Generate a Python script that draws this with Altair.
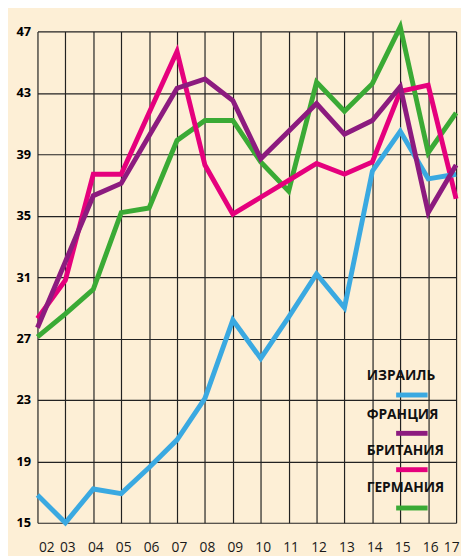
import altair as alt
import pandas as pd

years = list(range(2, 18))
y_ticks = [15, 19, 23, 27, 31, 35, 39, 43, 47]

countries = ["ИЗРАИЛЬ", "ФРАНЦИЯ", "БРИТАНИЯ", "ГЕРМАНИЯ"]
colors = ["#3aa9e1", "#8c1b7f", "#e5007d", "#3aaa35"]

israel = [16.8, 15.0, 17.2, 16.9, 18.6, 20.4, 23.1, 28.2, 25.7, 28.4, 31.2, 29.0, 37.9, 40.5, 37.4, 37.7]
france = [27.7, 32.0, 36.3, 37.1, 40.2, 43.3, 43.9, 42.5, 38.7, 40.5, 42.3, 40.3, 41.2, 43.4, 35.2, 38.3]
britain = [28.3, 30.8, 37.7, 37.7, 41.7, 45.7, 38.3, 35.1, 36.2, 37.3, 38.4, 37.7, 38.5, 43.1, 43.5, 36.1]
germany = [27.1, 28.6, 30.2, 35.2, 35.5, 39.9, 41.2, 41.2, 38.5, 36.6, 43.7, 41.8, 43.6, 47.3, 39.1, 41.7]

series = [israel, france, britain, germany]
rows = []
for name, vals in zip(countries, series):
    for yr, v in zip(years, vals):
        rows.append({"country": name, "year": yr, "value": v})
df = pd.DataFrame(rows)

x_enc = alt.X(
    "year:Q",
    scale=alt.Scale(domain=[2, 17], nice=False, zero=False),
    axis=alt.Axis(
        values=years,
        labelExpr="datum.value < 10 ? '0' + datum.value : '' + datum.value",
        title=None,
        grid=True,
        ticks=False,
        domain=False,
        labelFont="Open Sans",
        labelFontSize=14,
        labelColor="#1a1a1a",
        labelPadding=18,
        labelOffset=2,
        labelFlush=True,
        labelFlushOffset=1,
    ),
)
y_enc = alt.Y(
    "value:Q",
    scale=alt.Scale(domain=[15, 47], nice=False, zero=False),
    axis=alt.Axis(
        values=y_ticks,
        title=None,
        grid=True,
        ticks=False,
        domain=False,
        labelFont="Open Sans",
        labelFontSize=13,
        labelFontWeight="bold",
        labelColor="#000000",
        labelPadding=7,
        labelFlush=False,
    ),
)

color_scale = alt.Scale(domain=countries, range=colors)

draw_order = ["ГЕРМАНИЯ", "БРИТАНИЯ", "ИЗРАИЛЬ", "ФРАНЦИЯ"]
layers = []
for name in draw_order:
    layers.append(
        alt.Chart(df)
        .transform_filter(alt.datum.country == name)
        .mark_line(strokeWidth=5, strokeJoin="miter", strokeCap="butt")
        .encode(
            x=x_enc,
            y=y_enc,
            color=alt.Color("country:N", scale=color_scale, legend=None),
        )
    )

# custom legend: label above a short line sample
text_y = [351, 390, 427, 465]
line_y = [370, 409, 446, 485]
for name, col, ty, ly in zip(countries, colors, text_y, line_y):
    ldf = pd.DataFrame({"label": [name]})
    layers.append(
        alt.Chart(ldf)
        .mark_text(
            align="left",
            baseline="middle",
            font="Open Sans",
            fontSize=14,
            fontWeight="bold",
            color="#111111",
        )
        .encode(x=alt.value(335), y=alt.value(ty), text="label:N")
    )
    layers.append(
        alt.Chart(ldf)
        .mark_rule(strokeWidth=5, color=col)
        .encode(x=alt.value(365), x2=alt.value(397), y=alt.value(ly))
    )

chart = (
    alt.layer(*layers)
    .properties(
        width=426,
        height=500,
        autosize=alt.AutoSizeParams(type="none"),
        padding={"left": 30, "top": 19, "right": 5, "bottom": 29},
        background="#fdefd6",
    )
    .configure_view(stroke=None)
    .configure_axis(gridColor="#222222", gridWidth=1.2, gridOpacity=1)
)

chart.save("out.html", embed_options={"renderer": "svg", "actions": False})
